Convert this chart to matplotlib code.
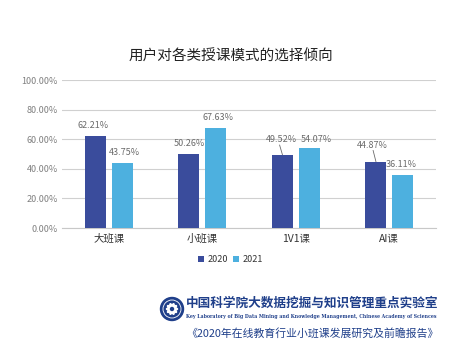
import numpy as np
import matplotlib.pyplot as plt
from matplotlib.patches import Circle, Ellipse

plt.rcParams['font.family'] = ['Noto Sans CJK SC', 'DejaVu Sans']

# chart data
categories = ["大班课", "小班课", "1V1课", "AI课"]
series_names = ["2020", "2021"]
values_2020 = [62.21, 50.26, 49.52, 44.87]
values_2021 = [43.75, 67.63, 54.07, 36.11]
yticks = [0, 20, 40, 60, 80, 100]

dark = "#3a4c9c"
light = "#4db0df"
grey = "#6b6b6b"

fig = plt.figure(figsize=(4.54, 3.48), dpi=100)
ax = fig.add_axes([62 / 454, 1 - 228 / 348, 374 / 454, 148 / 348])

x = np.arange(len(categories))
w = 0.225
gap = 0.03
b1 = ax.bar(x - w / 2 - gap, values_2020, w, color=dark, label=series_names[0], zorder=3)
b2 = ax.bar(x + w / 2 + gap, values_2021, w, color=light, label=series_names[1], zorder=3)

ax.set_xlim(-0.5, len(categories) - 0.5)
ax.set_ylim(0, 100)
ax.set_yticks(yticks)
ax.set_yticklabels(["%.2f%%" % v for v in yticks], fontsize=6.5, color="#808080")
ax.set_xticks(x)
ax.set_xticklabels(categories, fontsize=7.5, color="#333333")
ax.tick_params(length=0, pad=3)
ax.tick_params(axis="x", pad=4)
ax.grid(axis="y", color="#d0d0d0", linewidth=0.8, zorder=0)
for s in ["top", "right", "left"]:
    ax.spines[s].set_visible(False)
ax.spines["bottom"].set_color("#c8c8c8")

# data labels (some shifted with leader lines, as in the original)
offsets_2020 = [(-0.02, 4), (0.0, 4), (-0.01, 7), (-0.04, 8)]
offsets_2021 = [(0.03, 4), (0.03, 4), (0.08, 2.5), (-0.02, 4)]
for i in range(len(categories)):
    for bars, vals, offs in [(b1, values_2020, offsets_2020), (b2, values_2021, offsets_2021)]:
        bx = bars[i].get_x() + bars[i].get_width() / 2
        dx, dy = offs[i]
        ax.text(bx + dx, vals[i] + dy, "%.2f%%" % vals[i], ha="center", va="bottom",
                fontsize=6.5, color=grey, zorder=4)
# leader lines for 1V1 and AI 2020 labels
for i in [2, 3]:
    bx = b1[i].get_x() + b1[i].get_width() / 2
    top = values_2020[i] + (6.5 if i == 2 else 7.5)
    ax.plot([bx - 0.03, bx - 0.0], [top, values_2020[i]], color=grey, lw=0.6, zorder=4)

ax.legend(loc="upper center", bbox_to_anchor=(0.45, -0.13), ncol=2, frameon=False,
          fontsize=6.5, handlelength=0.7, handleheight=0.7, columnspacing=0.6,
          handletextpad=0.3, labelcolor="#333333")

fig.text(231 / 454, 1 - 57 / 348, "用户对各类授课模式的选择倾向", ha="center", va="center",
         fontsize=10.5, color="#222222")

# logo and source block
lax = fig.add_axes([0, 0, 1, 1], zorder=-1)
lax.set_xlim(0, 454)
lax.set_ylim(348, 0)
lax.axis("off")
lax.add_patch(Circle((172, 309), 11.5, color="#1f3f8a"))
lax.add_patch(Circle((172, 309), 9, fill=False, ec="white", lw=0.6))
for a in range(0, 180, 36):
    lax.add_patch(Ellipse((172, 309), 11, 3, angle=a, color="white"))
lax.add_patch(Circle((172, 309), 1.5, color="#1f3f8a"))

fig.text(186 / 454, 1 - 303 / 348, "中国科学院大数据挖掘与知识管理重点实验室", ha="left", va="center",
         fontsize=9.1, color="#1f3f8a", fontweight="bold")
fig.text(186 / 454, 1 - 316.5 / 348,
         "Key Laboratory of Big Data Mining and Knowledge Management, Chinese Academy of Sciences",
         ha="left", va="center", fontsize=3.3, color="#1f3f8a", fontweight="bold",
         family="DejaVu Serif")
fig.text(186 / 454, 1 - 333 / 348, "《2020年在线教育行业小班课发展研究及前瞻报告》", ha="left",
         va="center", fontsize=7.8, color="#1f3f8a")

fig.savefig("out.png", dpi=100)
